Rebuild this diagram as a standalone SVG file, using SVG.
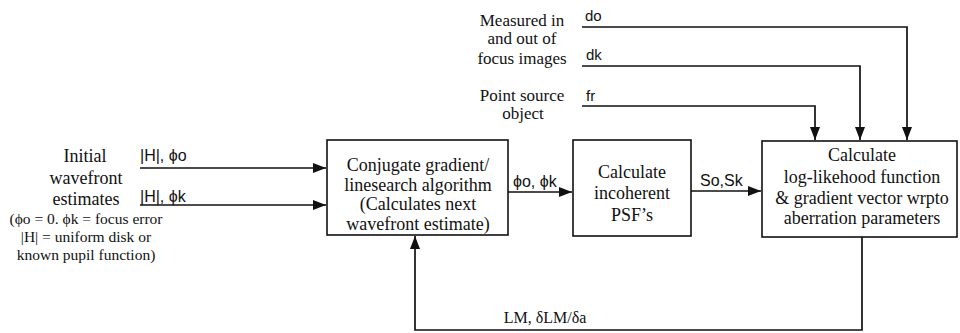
<svg xmlns="http://www.w3.org/2000/svg" width="960" height="333" viewBox="0 0 960 333">
<style>
.box{fill:#fff;stroke:#111;stroke-width:1.6}
.t{font-family:"Liberation Serif","Times New Roman",serif;font-size:18px;fill:#111;text-anchor:middle}
.u{font-family:"Liberation Serif","Times New Roman",serif;font-size:17px;fill:#111;text-anchor:middle}
.s{font-family:"Liberation Serif","Times New Roman",serif;font-size:15.5px;fill:#111;text-anchor:middle}
.l{font-family:"Liberation Sans",Arial,sans-serif;font-size:16px;fill:#111}
.d{font-family:"Liberation Sans",Arial,sans-serif;font-size:15px;fill:#111}
.c{fill:none;stroke:#111;stroke-width:1.7}
</style>
<defs>
<marker id="ah" markerUnits="userSpaceOnUse" markerWidth="14" markerHeight="10" refX="13" refY="5" orient="auto">
<path d="M0,0 L13,5 L0,10 Z" fill="#111"/>
</marker>
</defs>
<rect width="960" height="333" fill="#fff"/>
<g id="connectors">
<path class="c" d="M140,168 H326" marker-end="url(#ah)"/>
<path class="c" d="M140,205 H326" marker-end="url(#ah)"/>
<path class="c" d="M508,192 H572" marker-end="url(#ah)"/>
<path class="c" d="M691,191 H761" marker-end="url(#ah)"/>
<path class="c" d="M582,27 H907 V140" marker-end="url(#ah)"/>
<path class="c" d="M582,66 H860 V140" marker-end="url(#ah)"/>
<path class="c" d="M582,106 H815 V140" marker-end="url(#ah)"/>
<path class="c" d="M862,237 V330 H415 V236" marker-end="url(#ah)"/>
<text class="l" x="140" y="161">|H|, ϕo</text>
<text class="l" x="140" y="202">|H|, ϕk</text>
<text class="l" x="513" y="187">ϕo, ϕk</text>
<text class="l" x="700" y="186">So,Sk</text>
<text class="d" x="585" y="21">do</text>
<text class="d" x="586" y="60">dk</text>
<text class="d" x="586" y="101">fr</text>
<text class="t" x="545" y="323" style="font-size:16px">LM, δLM/δa</text>
</g>
<g id="inputs-left">
<text class="t" x="85" y="162">Initial</text>
<text class="t" x="86" y="184">wavefront</text>
<text class="t" x="86" y="205">estimates</text>
<text class="s" x="86" y="224">(ϕo = 0. ϕk = focus error</text>
<text class="s" x="86" y="242">|H| = uniform disk or</text>
<text class="s" x="86" y="260">known pupil function)</text>
</g>
<g id="inputs-top">
<text class="u" x="522" y="26">Measured in</text>
<text class="u" x="522" y="44">and out of</text>
<text class="u" x="522" y="64">focus images</text>
<text class="u" x="522" y="101">Point source</text>
<text class="u" x="523" y="119">object</text>
</g>
<g id="conjugate">
<rect class="box" x="327" y="140" width="181" height="95"/>
<text class="t" x="418" y="171">Conjugate gradient/</text>
<text class="t" x="418" y="190.5">linesearch algorithm</text>
<text class="t" x="418" y="210">(Calculates next</text>
<text class="t" x="418" y="229.5">wavefront estimate)</text>
</g>
<g id="psf">
<rect class="box" x="573" y="140" width="118" height="96"/>
<text class="t" x="632" y="178">Calculate</text>
<text class="t" x="632" y="199">incoherent</text>
<text class="t" x="632" y="221">PSF’s</text>
</g>
<g id="loglike">
<rect class="box" x="762" y="141" width="195" height="96"/>
<text class="t" x="862" y="161">Calculate</text>
<text class="t" x="862" y="183">log-likehood function</text>
<text class="t" x="862" y="204">&amp; gradient vector wrpto</text>
<text class="t" x="862" y="224">aberration parameters</text>
</g>
</svg>
